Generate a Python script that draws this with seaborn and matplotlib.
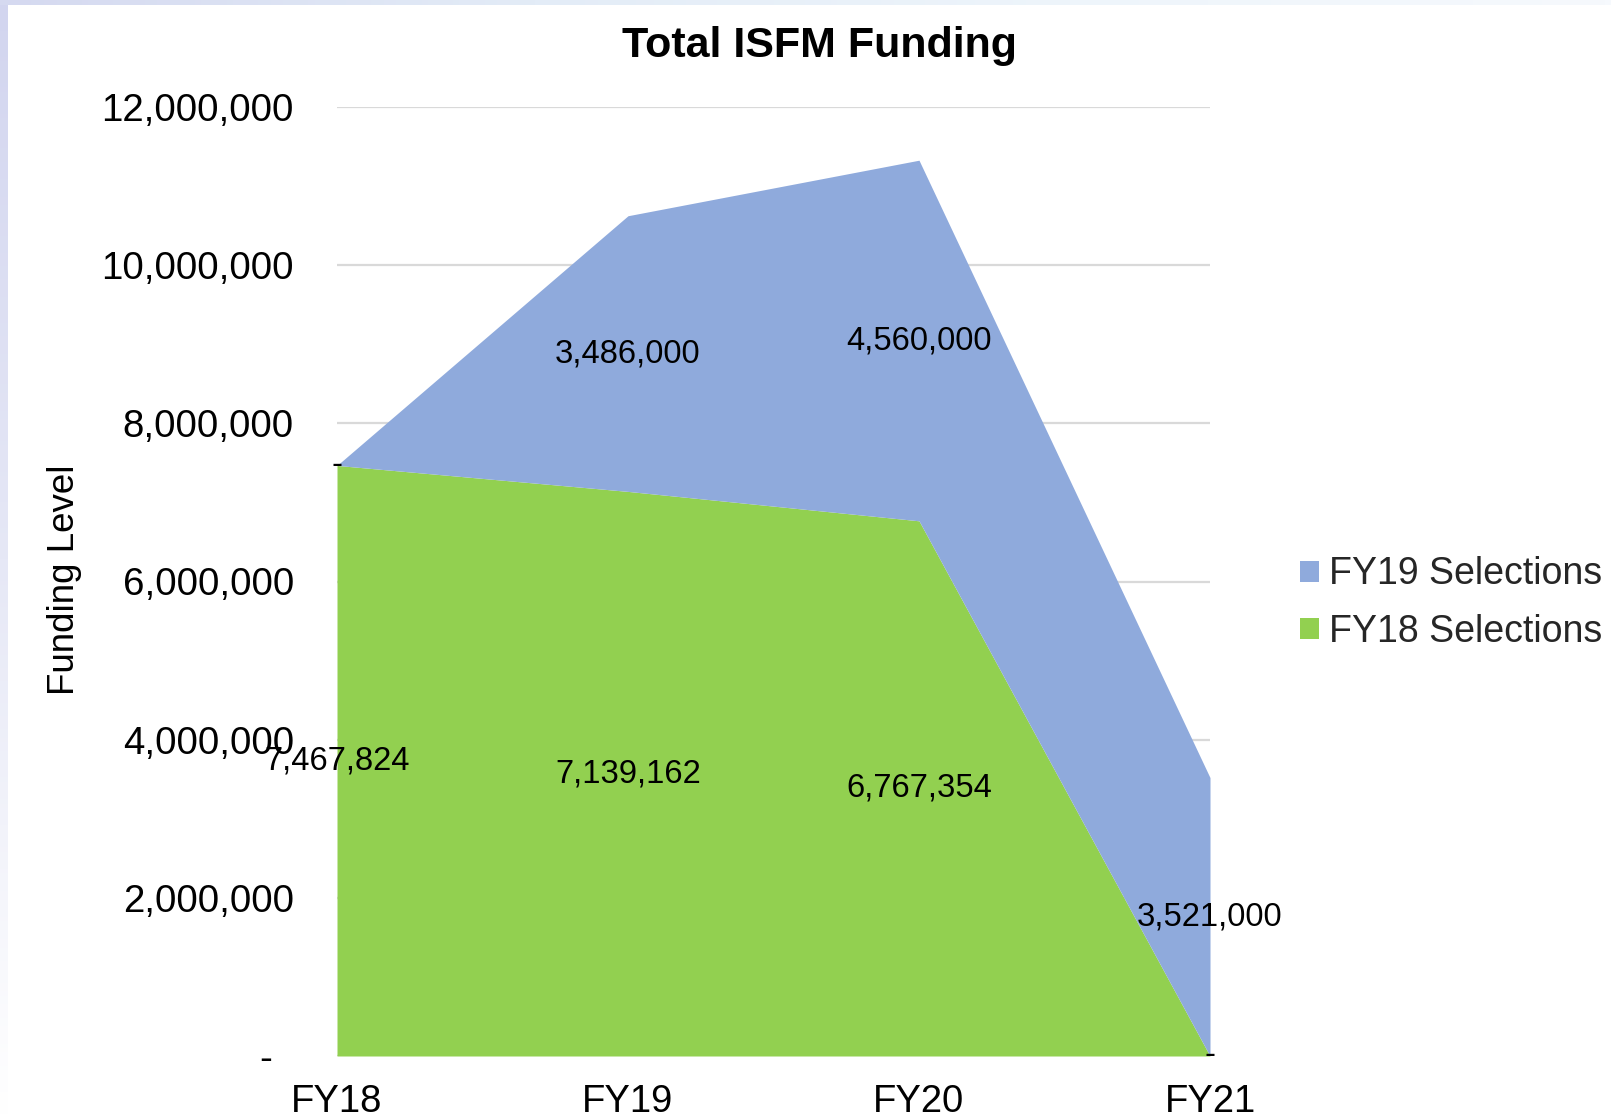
import numpy as np
import pandas as pd
import matplotlib
matplotlib.use("Agg")
import matplotlib.pyplot as plt
from matplotlib.patches import Patch
from matplotlib.colors import LinearSegmentedColormap
import seaborn as sns

# ---- data ----
categories = ["FY18", "FY19", "FY20", "FY21"]
fy18_selections = [7467824, 7139162, 6767354, 0]
fy19_selections = [0, 3486000, 4560000, 3521000]
series_names = ["FY18 Selections", "FY19 Selections"]
y_ticks = [0, 2000000, 4000000, 6000000, 8000000, 10000000, 12000000]
title = "Total ISFM Funding"
y_label = "Funding Level"

colors = {"FY18 Selections": "#92D050", "FY19 Selections": "#8FAADC"}

sns.set_theme(style="white")
plt.rcParams["font.family"] = ["Liberation Sans", "DejaVu Sans"]

df = pd.DataFrame({"category": categories,
                   "FY18 Selections": fy18_selections,
                   "FY19 Selections": fy19_selections})

W, H = 1611, 1118
fig = plt.figure(figsize=(W / 100, H / 100), dpi=100)
fig.patch.set_facecolor("white")

# slide background edges (gradient strips)
ax_l = fig.add_axes([0, 0, 8 / W, 1])
grad = np.linspace(0, 1, 256).reshape(-1, 1)
cm_l = LinearSegmentedColormap.from_list("l", ["#D2D5EF", "#E6E8F6", "#FFFFFF"])
ax_l.imshow(grad, aspect="auto", cmap=cm_l, extent=[0, 1, 0, 1], origin="upper")
ax_l.axis("off")
ax_t = fig.add_axes([0, 1 - 5 / H, 1, 5 / H])
gradh = np.linspace(0, 1, 256).reshape(1, -1)
cm_t = LinearSegmentedColormap.from_list("t", ["#D5D9F0", "#E3ECF7", "#EEF5FB", "#F6F9FD"])
ax_t.imshow(gradh, aspect="auto", cmap=cm_t, extent=[0, 1, 0, 1])
ax_t.axis("off")

ax = fig.add_axes([337 / W, 1 - 1056 / H, (1210 - 337) / W, (1056 - 107) / H])
x = np.arange(len(categories))
ax.stackplot(x, df["FY18 Selections"], df["FY19 Selections"],
             colors=[colors["FY18 Selections"], colors["FY19 Selections"]],
             linewidth=0, zorder=2)

ax.set_xlim(0, len(categories) - 1)
ax.set_ylim(0, 12000000)
ax.set_yticks(y_ticks)
ax.set_yticklabels([("-  " if v == 0 else f"{v:,}") for v in y_ticks], fontsize=27.7)
ax.set_xticks(x)
ax.set_xticklabels(categories, fontsize=27.5)
ax.tick_params(axis="y", length=0, pad=31, colors="black")
ax.tick_params(axis="x", length=0, pad=20, colors="black")
ax.grid(axis="y", color="#D9D9D9", linewidth=1.6, zorder=0)
ax.grid(axis="x", visible=False)
ax.set_axisbelow(True)
for s in ax.spines.values():
    s.set_visible(False)
ax.set_facecolor("none")

# data labels (centered in each band)
bottom = np.zeros(len(categories))
for name in series_names:
    vals = np.array(df[name], dtype=float)
    for i, v in enumerate(vals):
        yc = bottom[i] + v / 2
        txt = "-" if v == 0 else f"{int(v):,}"
        ax.text(x[i], yc, txt, ha="center", va="center", fontsize=23.6,
                color="black", zorder=5, clip_on=False)
    bottom = bottom + vals

fig.text(820 / W, 1 - 46 / H, title, ha="center", va="center",
         fontsize=31, fontweight="bold", color="black")
fig.text(65 / W, 1 - 580 / H, y_label, ha="center", va="center",
         rotation=90, fontsize=26.5, color="black")

handles = [Patch(facecolor=colors["FY19 Selections"], edgecolor="none"),
           Patch(facecolor=colors["FY18 Selections"], edgecolor="none")]
fig.legend(handles, ["FY19 Selections", "FY18 Selections"],
           loc="center left", bbox_to_anchor=(1300 / W, 1 - 603 / H),
           frameon=False, fontsize=27, handlelength=0.5, handleheight=0.5,
           handletextpad=0.27, labelspacing=0.56, borderpad=0, borderaxespad=0)

fig.savefig("out.png", dpi=100)
